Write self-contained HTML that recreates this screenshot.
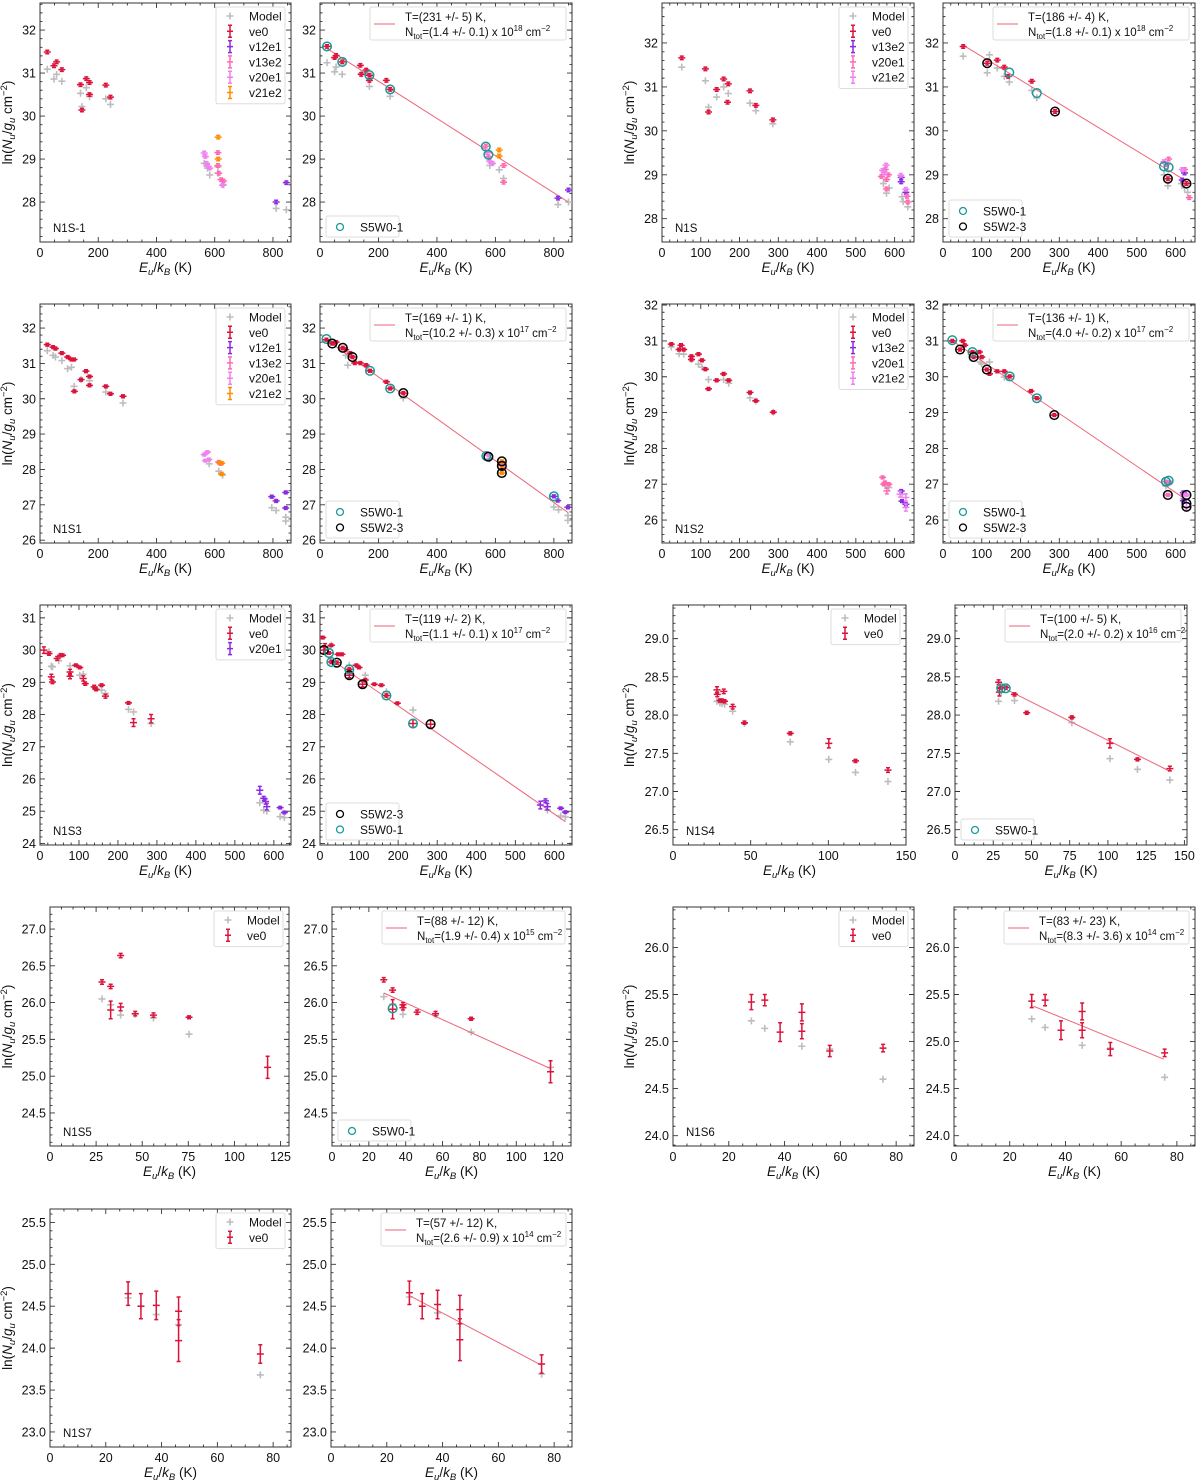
<!DOCTYPE html>
<html><head><meta charset="utf-8">
<style>
html,body{margin:0;padding:0;background:#fff;}
svg{display:block;font-family:"Liberation Sans","DejaVu Sans",sans-serif;}
</style></head>
<body>
<svg id="fig" xmlns="http://www.w3.org/2000/svg" width="1200" height="1481" viewBox="0 0 1200 1481"></svg>
<script>
// ---------- data: N1S-1 ----------
const a1_model=[[25,31.09],[48,30.86],[57,30.97],[75,30.81],[139,30.53],[144,30.22],[159,30.66],[170,30.45],[226,30.40],[242,30.27],[564,28.9],[575,28.79],[583,28.63],[611,28.67],[611,28.82],[630,28.4],[811,27.85],[846,27.82]];
const a1_ve0=[[25,31.49],[48,31.17],[57,31.26],[75,31.08],[139,30.73],[144,30.14],[159,30.87],[170,30.78],[170,30.50],[226,30.72],[242,30.44]];
const a1_v12e1=[[811,28.0],[846,28.45]];
const a1_v13e2=[[611,29.15],[611,28.85],[614,28.67],[622,28.52],[630,28.49]];
const a1_v20e1=[[564,29.14],[568,29.06],[572,28.9],[577,28.83],[583,28.79],[627,28.39]];
const a1_v21e2=[[612,29.51],[612,29.0]];
const b1_model=[[24,31.24],[50,31.03],[55,31.14],[76,30.97],[141,30.99],[169,30.69],[240,30.46],[581,28.85],[613,28.75],[628,28.55],[814,27.94],[850,28.0]];
const b1_ve0=[[24,31.62],[50,31.36],[55,31.41],[76,31.26],[138,31.18],[141,30.97],[158,31.07],[169,30.95],[169,30.83],[227,30.83],[240,30.62]];
const b1_v12e1=[[814,28.09],[850,28.28]];
const b1_v13e2=[[567,29.3],[628,28.46],[628,28.85],[576,29.05]];
const b1_v20e1=[[572,29.15],[580,28.95],[590,28.9]];
const b1_v21e2=[[613,29.21],[613,29.07]];
const b1_s5w01=[[24,31.62],[76,31.26],[169,30.95],[240,30.62],[567,29.29],[576,29.10]];
const b1_fit=[231,31.675,22,848];
// ---------- data: N1S ----------
const a2_model=[[51,31.45],[112,31.14],[120,30.54],[141,30.77],[159,31.0],[171,30.85],[227,30.63],[242,30.46],[286,30.16],[571,28.8],[579,28.58],[586,28.7],[619,28.5],[622,28.39],[634,28.27]];
const a2_ve0=[[51,31.66],[112,31.41],[120,30.43],[141,30.94],[159,31.18],[171,31.07],[169,30.65],[227,30.91],[242,30.58],[286,30.25]];
const a2_v13e2=[[617,28.94],[617,28.84],[629,28.6]];
const a2_v20e1=[[566,28.96],[576,29.12],[579,28.89],[584,29.0],[579,28.68],[632,28.51],[634,28.38]];
const a2_v21e2=[[574,29.04],[569,29.1],[578,29.22],[616,28.99],[629,28.67]];
const b2_model=[[52,31.70],[114,31.32],[120,31.73],[140,31.43],[158,31.24],[171,31.11],[229,30.92],[242,30.75],[570,29.0],[623,28.7],[631,28.6],[580,28.75],[615,28.8]];
const b2_ve0=[[52,31.92],[140,31.61],[158,31.45],[168,31.24],[229,31.13],[114,31.54],[289,30.44],[580,28.91],[628,28.80]];
const b2_v13e2=[[623,29.04],[617,28.88]];
const b2_v20e1=[[582,29.36],[577,29.23],[623,29.12],[635,28.48]];
const b2_v21e2=[[617,29.12],[570,29.3]];
const b2_s5w01=[[171,31.33],[242,30.86],[570,29.19],[582,29.17]];
const b2_s5w23=[[114,31.54],[289,30.44],[580,28.91],[628,28.80]];
const b2_fit=[186,32.23,51,640];
// ---------- data: N1S1 ----------
const a3_model=[[25,31.36],[45,31.23],[53,31.18],[75,31.08],[95,30.85],[108,30.89],[117,30.35],[141,30.54],[170,30.51],[226,30.19],[285,29.88],[581,28.16],[614,27.95],[627,27.84],[796,26.92],[811,26.84],[844,26.65],[844,26.54]];
const a3_ve0=[[25,31.53],[45,31.46],[53,31.42],[75,31.29],[95,31.18],[108,31.11],[117,31.11],[118,30.21],[141,30.54],[158,30.78],[170,30.63],[170,30.38],[226,30.35],[242,30.14],[285,30.07]];
const a3_v12e1=[[796,27.23],[811,27.11],[844,27.35],[844,26.91]];
const a3_v13e2=[[614,28.21],[620,28.16]];
const a3_v20e1=[[564,28.42],[575,28.49],[580,28.28],[568,28.25]];
const a3_v21e2=[[617,28.19],[624,28.18],[624,27.87]];
const b3_model=[[88,31.23],[95,30.95],[285,30.02],[800,26.94],[848,26.56],[848,26.7],[816,26.86],[580,28.3],[622,28.1]];
const b3_ve0=[[22,31.67],[45,31.58],[55,31.6],[88,31.39],[104,31.29],[119,31.01],[138,31.01],[158,30.95],[227,30.48],[42,31.56],[78,31.44],[111,31.18],[285,30.16],[171,30.79],[240,30.29]];
const b3_v12e1=[[800,27.24],[813,27.12],[848,26.93]];
const b3_v13e2=[[622,28.12]];
const b3_v20e1=[[569,28.45],[576,28.4]];
const b3_v21e2=[[622,28.23],[622,28.02],[622,27.9]];
const b3_s5w01=[[22,31.69],[171,30.79],[240,30.29],[569,28.38],[800,27.24]];
const b3_s5w23=[[42,31.56],[78,31.44],[111,31.18],[285,30.16],[576,28.36],[622,28.23],[622,28.1],[622,27.9]];
const b3_fit=[169,31.80,20,848];
// ---------- data: N1S2 ----------
const a4_model=[[24,30.83],[44,30.64],[56,30.63],[76,30.48],[94,30.35],[103,30.27],[120,29.92],[159,29.92],[172,29.82],[227,29.41],[242,29.32],[287,29.01],[575,26.96],[585,26.91],[619,26.72]];
const a4_ve0=[[24,30.91],[44,30.76],[49,30.88],[56,30.76],[76,30.57],[76,30.48],[94,30.63],[103,30.46],[112,30.21],[120,29.66],[141,29.9],[159,30.08],[172,29.9],[227,29.56],[242,29.33],[287,29.01]];
const a4_v13e2=[[617,26.81],[619,26.53],[629,26.44]];
const a4_v20e1=[[569,27.19],[575,27.05],[580,26.81,0.08],[585,27.0],[572,27.0]];
const a4_v21e2=[[614,26.72,0.08],[629,26.63,0.1],[629,26.35,0.1]];
const b4_model=[[96,30.41],[100,30.36],[120,30.41],[158,29.99],[575,26.95],[620,26.6]];
const b4_ve0=[[24,31.0],[51,31.0],[56,30.88],[76,30.69],[94,30.69],[100,30.55],[120,30.08],[140,30.15],[158,30.15],[172,30.01],[227,29.6],[242,29.4],[44,30.76],[79,30.55],[113,30.2],[287,28.93]];
const b4_v13e2=[[620,26.77],[620,26.54]];
const b4_v20e1=[[575,27.07],[585,27.05],[580,26.7]];
const b4_v21e2=[[620,26.72],[628,26.7],[628,26.37,0.1]];
const b4_s5w01=[[24,31.02],[76,30.69],[172,30.01],[242,29.4],[575,27.07],[582,27.1]];
const b4_s5w23=[[44,30.76],[79,30.55],[113,30.2],[287,28.93],[580,26.7],[628,26.7],[628,26.46],[628,26.37]];
const b4_fit=[136,31.18,22,628];
// ---------- data: N1S3 ----------
const a5_model=[[23,29.95],[29,29.5],[32,29.48],[48,29.67],[77,29.51],[102,29.22],[111,29.25],[158,28.76],[168,28.65],[227,28.16],[240,28.08],[285,27.72],[564,25.26],[574,25.03],[582,25.0],[616,24.83],[627,24.8]];
const a5_ve0=[[10,30.0,0.1],[23,29.89,0.05],[29,29.17,0.08],[32,29.01,0.05],[44,29.74,0.06],[53,29.84,0.05],[58,29.84,0.04],[77,29.32,0.08],[77,29.19,0.08],[92,29.53,0.04],[102,29.46,0.04],[111,29.12,0.08],[116,28.96,0.05],[139,28.86,0.05],[144,28.78,0.04],[158,28.91,0.04],[168,28.57,0.06],[227,28.36,0.04],[240,27.75,0.12],[285,27.87,0.13]];
const a5_v20e1=[[564,25.65,0.12],[574,25.4,0.06],[579,25.3,0.08],[582,25.14,0.1],[616,25.11,0.04],[627,24.96,0.04]];
const b5_model=[[26,30.12],[29,30.15],[75,29.53],[116,29.22],[170,28.71],[238,28.14],[582,25.03],[616,24.85],[628,24.82]];
const b5_ve0=[[7,30.39,0.04],[13,30.1,0.1],[29,30.15,0.04],[46,29.87,0.04],[56,29.87,0.04],[93,29.53,0.04],[100,29.46,0.04],[116,29.07,0.05],[139,28.94,0.04],[157,28.91,0.04],[198,28.35,0.04],[10,30.0,0.1],[43,29.61,0.05],[75,29.22,0.08],[109,28.94,0.08],[283,27.7,0.13],[23,29.91,0.04],[29,29.63,0.05],[75,29.4,0.05],[170,28.59,0.05],[238,27.72,0.12]];
const b5_v20e1=[[564,25.19,0.12],[577,25.32,0.06],[582,25.14,0.1],[616,25.09,0.04],[628,24.97,0.04]];
const b5_s5w23=[[10,30.0],[43,29.61],[75,29.22],[109,28.94],[283,27.7]];
const b5_s5w01=[[23,29.91],[29,29.63],[75,29.4],[170,28.59],[238,27.72]];
const b5_fit=[119,29.95,7,628];
// ---------- data: N1S4 ----------
const a6_model=[[28.3,28.18],[30.2,28.16],[31.5,28.15],[33.2,28.14],[38.4,28.05],[46,27.89],[75.5,27.65],[100.3,27.42],[117.5,27.25],[138.4,27.13]];
const a6_ve0=[[28.3,28.33,0.04],[28.5,28.27,0.03],[30.2,28.19,0.02],[31.5,28.19,0.02],[32.7,28.31,0.03],[33.2,28.18,0.02],[38.4,28.11,0.03],[46,27.9,0.02],[75.5,27.76,0.02],[100.3,27.63,0.06],[117.5,27.4,0.02],[138.4,27.28,0.03]];
const b6_model=[[28.5,28.18],[30.2,28.3],[38.9,28.19],[76.4,27.9],[101.3,27.43],[119.3,27.29],[140.5,27.15]];
const b6_ve0=[[28.5,28.43,0.03],[29,28.30,0.05],[30.2,28.36,0.02],[33.2,28.36,0.02],[38.9,28.27,0.02],[46.9,28.03,0.02],[76.4,27.97,0.02],[101.3,27.63,0.06],[119.3,27.42,0.02],[140.5,27.3,0.03]];
const b6_s5w01=[[30.2,28.35],[33.2,28.35]];
const b6_fit=[100,28.67,29,140.5];
// ---------- data: N1S5 ----------
const a7_model=[[28.2,26.05],[32.9,25.97],[38.3,25.83],[46.2,25.84],[56.1,25.79],[75.4,25.57]];
const a7_ve0=[[28.2,26.28,0.03],[32.9,26.22,0.03],[32.9,25.9,0.12],[38.3,26.64,0.03],[38.3,25.94,0.05],[46.2,25.85,0.03],[56.1,25.83,0.03],[75.4,25.8,0.02],[118,25.12,0.15]];
const b7_model=[[28.1,26.08],[33,25.98],[38.5,25.84],[56.2,25.83],[75.5,25.6],[118.6,25.12]];
const b7_ve0=[[28.1,26.31,0.03],[32.9,26.17,0.03],[32.9,25.91,0.13],[38.5,25.97,0.03],[38.5,25.93,0.03],[46.2,25.87,0.03],[56.2,25.85,0.03],[75.5,25.78,0.02],[118.6,25.06,0.15]];
const b7_s5w01=[[32.9,25.92]];
const b7_fit=[88,26.45,28.1,118.6];
// ---------- data: N1S6 ----------
const a8_model=[[28.1,25.22],[32.9,25.14],[46.2,24.95],[56.2,24.92],[75.3,24.6]];
const a8_ve0=[[28.1,25.42,0.08],[32.9,25.44,0.06],[38.4,25.1,0.1],[46.2,25.31,0.09],[46.2,25.11,0.08],[56.2,24.9,0.06],[75.3,24.93,0.04]];
const b8_model=[[27.9,25.24],[32.7,25.15],[46,24.96],[56.1,24.93],[75.6,24.62]];
const b8_ve0=[[27.9,25.43,0.07],[32.7,25.44,0.06],[38.4,25.12,0.1],[46,25.32,0.09],[46,25.12,0.08],[56.1,24.92,0.07],[75.6,24.88,0.04]];
const b8_fit=[83,25.72,28.6,75.3];
// ---------- data: N1S7 ----------
const a9_model=[[28,24.6],[32.6,24.5],[38.1,24.4],[46.1,24.28],[75.4,23.68]];
const a9_ve0=[[28,24.65,0.14],[32.6,24.5,0.15],[38.1,24.51,0.17],[46.1,24.44,0.17],[46.1,24.09,0.25],[75.4,23.93,0.11]];
const b9_model=[[28.1,24.61],[38.2,24.42],[46.2,24.29],[75.5,23.69]];
const b9_ve0=[[28.1,24.66,0.14],[32.7,24.5,0.15],[38.2,24.52,0.17],[46.2,24.46,0.17],[46.2,24.1,0.25],[75.5,23.81,0.11]];
const b9_fit=[57,25.12,28.1,75.5];

const NS='http://www.w3.org/2000/svg';
const svg=document.getElementById('fig');
function mk(tag,attrs,parent){const e=document.createElementNS(NS,tag);for(const k in attrs)e.setAttribute(k,attrs[k]);(parent||svg).appendChild(e);return e;}
const RED='#dc143c',PUR='#8a2be2',HPK='#ff69b4',VIO='#ee82ee',ORG='#ff8c00',GRY='#bdbdbd',TEAL='#1a9a9a',FITC='#ee6478';

const panels=[
 {nm:'n1s-1',x0:40,x1:291,y0:3,y1:242,xr:[0,862],yr:[27.07,32.63],xs:200,ys:1,yd:0,lab:'N1S-1',ylx:12,model:a1_model,ser:[['ve0',a1_ve0,RED],['v12e1',a1_v12e1,PUR],['v13e2',a1_v13e2,HPK],['v20e1',a1_v20e1,VIO],['v21e2',a1_v21e2,ORG]]},
 {nm:'n1s-1-fit',x0:320,x1:572,y0:3,y1:242,xr:[0,862],yr:[27.07,32.63],xs:200,ys:1,yd:0,model:b1_model,ser:[['ve0',b1_ve0,RED],['v12e1',b1_v12e1,PUR],['v13e2',b1_v13e2,HPK],['v20e1',b1_v20e1,VIO],['v21e2',b1_v21e2,ORG]],fit:b1_fit,ftxt:['231 +/- 5','1.4 +/- 0.1','18'],circ:[['S5W0-1',b1_s5w01,TEAL]]},
 {nm:'n1s',x0:662,x1:914,y0:3,y1:242,xr:[0,650],yr:[27.47,32.91],xs:100,ys:1,yd:0,lab:'N1S',ylx:634,model:a2_model,ser:[['ve0',a2_ve0,RED],['v13e2',a2_v13e2,PUR],['v20e1',a2_v20e1,HPK],['v21e2',a2_v21e2,VIO]]},
 {nm:'n1s-fit',x0:943,x1:1195,y0:3,y1:242,xr:[0,650],yr:[27.47,32.91],xs:100,ys:1,yd:0,model:b2_model,ser:[['ve0',b2_ve0,RED],['v13e2',b2_v13e2,PUR],['v20e1',b2_v20e1,HPK],['v21e2',b2_v21e2,VIO]],fit:b2_fit,ftxt:['186 +/- 4','1.8 +/- 0.1','18'],circ:[['S5W0-1',b2_s5w01,TEAL],['S5W2-3',b2_s5w23,'#000']]},
 {nm:'n1s1',x0:40,x1:291,y0:304,y1:543,xr:[0,862],yr:[25.92,32.68],xs:200,ys:1,yd:0,lab:'N1S1',ylx:12,model:a3_model,ser:[['ve0',a3_ve0,RED],['v12e1',a3_v12e1,PUR],['v13e2',a3_v13e2,HPK],['v20e1',a3_v20e1,VIO],['v21e2',a3_v21e2,ORG]]},
 {nm:'n1s1-fit',x0:320,x1:572,y0:304,y1:543,xr:[0,862],yr:[25.92,32.68],xs:200,ys:1,yd:0,model:b3_model,ser:[['ve0',b3_ve0,RED],['v12e1',b3_v12e1,PUR],['v13e2',b3_v13e2,HPK],['v20e1',b3_v20e1,VIO],['v21e2',b3_v21e2,ORG]],fit:b3_fit,ftxt:['169 +/- 1','10.2 +/- 0.3','17'],circ:[['S5W0-1',b3_s5w01,TEAL],['S5W2-3',b3_s5w23,'#000']]},
 {nm:'n1s2',x0:662,x1:914,y0:304,y1:543,xr:[0,650],yr:[25.36,32.03],xs:100,ys:1,yd:0,lab:'N1S2',ylx:634,model:a4_model,ser:[['ve0',a4_ve0,RED],['v13e2',a4_v13e2,PUR],['v20e1',a4_v20e1,HPK],['v21e2',a4_v21e2,VIO]]},
 {nm:'n1s2-fit',x0:943,x1:1195,y0:304,y1:543,xr:[0,650],yr:[25.36,32.03],xs:100,ys:1,yd:0,model:b4_model,ser:[['ve0',b4_ve0,RED],['v13e2',b4_v13e2,PUR],['v20e1',b4_v20e1,HPK],['v21e2',b4_v21e2,VIO]],fit:b4_fit,ftxt:['136 +/- 1','4.0 +/- 0.2','17'],circ:[['S5W0-1',b4_s5w01,TEAL],['S5W2-3',b4_s5w23,'#000']]},
 {nm:'n1s3',x0:40,x1:291,y0:605,y1:845,xr:[0,644],yr:[23.95,31.4],xs:100,ys:1,yd:0,lab:'N1S3',ylx:12,model:a5_model,ser:[['ve0',a5_ve0,RED],['v20e1',a5_v20e1,PUR]]},
 {nm:'n1s3-fit',x0:320,x1:572,y0:605,y1:845,xr:[0,645],yr:[23.95,31.4],xs:100,ys:1,yd:0,model:b5_model,ser:[['ve0',b5_ve0,RED],['v20e1',b5_v20e1,PUR]],fit:b5_fit,ftxt:['119 +/- 2','1.1 +/- 0.1','17'],circ:[['S5W2-3',b5_s5w23,'#000'],['S5W0-1',b5_s5w01,TEAL]]},
 {nm:'n1s4',x0:673,x1:906,y0:605,y1:845,xr:[0,150],yr:[26.3,29.44],xs:50,ys:0.5,yd:1,lab:'N1S4',ylx:634,model:a6_model,ser:[['ve0',a6_ve0,RED]]},
 {nm:'n1s4-fit',x0:955,x1:1187,y0:605,y1:845,xr:[0,151.7],yr:[26.3,29.44],xs:25,ys:0.5,yd:1,model:b6_model,ser:[['ve0',b6_ve0,RED]],fit:b6_fit,ftxt:['100 +/- 5','2.0 +/- 0.2','16'],circ:[['S5W0-1',b6_s5w01,TEAL]]},
 {nm:'n1s5',x0:50,x1:289,y0:907,y1:1146,xr:[0,129.6],yr:[24.05,27.3],xs:25,ys:0.5,yd:1,lab:'N1S5',ylx:12,model:a7_model,ser:[['ve0',a7_ve0,RED]]},
 {nm:'n1s5-fit',x0:332,x1:571,y0:907,y1:1146,xr:[0,129.7],yr:[24.05,27.3],xs:20,ys:0.5,yd:1,model:b7_model,ser:[['ve0',b7_ve0,RED]],fit:b7_fit,ftxt:['88 +/- 12','1.9 +/- 0.4','15'],circ:[['S5W0-1',b7_s5w01,TEAL]]},
 {nm:'n1s6',x0:673,x1:914,y0:907,y1:1146,xr:[0,86.4],yr:[23.89,26.43],xs:20,ys:0.5,yd:1,lab:'N1S6',ylx:634,model:a8_model,ser:[['ve0',a8_ve0,RED]]},
 {nm:'n1s6-fit',x0:954,x1:1195,y0:907,y1:1146,xr:[0,86.5],yr:[23.89,26.43],xs:20,ys:0.5,yd:1,model:b8_model,ser:[['ve0',b8_ve0,RED]],fit:b8_fit,ftxt:['83 +/- 23','8.3 +/- 3.6','14']},
 {nm:'n1s7',x0:50,x1:291,y0:1209,y1:1447,xr:[0,86.4],yr:[22.82,25.66],xs:20,ys:0.5,yd:1,lab:'N1S7',ylx:12,model:a9_model,ser:[['ve0',a9_ve0,RED]]},
 {nm:'n1s7-fit',x0:331,x1:572,y0:1209,y1:1447,xr:[0,86.4],yr:[22.82,25.66],xs:20,ys:0.5,yd:1,model:b9_model,ser:[['ve0',b9_ve0,RED]],fit:b9_fit,ftxt:['57 +/- 12','2.6 +/- 0.9','14']}
];

function plus(g,x,y,c,s,w){
  const p=mk('path',{d:`M${x-s} ${y}H${x+s}M${x} ${y-s}V${y+s}`,stroke:c,'stroke-width':w,fill:'none'},g);
  return p;
}
function ndiv(step){const m=step/Math.pow(10,Math.floor(Math.log10(step)+1e-9));return (Math.abs(m-1)<1e-6||Math.abs(m-5)<1e-6)?5:4;}

panels.forEach(P=>{
  const g=mk('g',{});
  
  
  const X=v=>P.x0+(v-P.xr[0])/(P.xr[1]-P.xr[0])*(P.x1-P.x0);
  const Y=v=>P.y1-(v-P.yr[0])/(P.yr[1]-P.yr[0])*(P.y1-P.y0);
  const clip='clip-'+P.nm;
  const cp=mk('clipPath',{id:clip},g);
  mk('rect',{x:P.x0,y:P.y0,width:P.x1-P.x0,height:P.y1-P.y0},cp);
  const tg=mk('g',{stroke:'#333','stroke-width':0.9},g);
  
  
  const xmn=P.xs/ndiv(P.xs), ymn=P.ys/ndiv(P.ys);
  for(let v=Math.ceil(P.xr[0]/xmn-1e-6)*xmn; v<=P.xr[1]+1e-9; v+=xmn){
    const maj=Math.abs(v/P.xs-Math.round(v/P.xs))<1e-6, L=maj?5:2.5, x=X(v);
    mk('path',{d:`M${x} ${P.y1}V${P.y1-L}M${x} ${P.y0}V${P.y0+L}`},tg);
    if(maj){const t=mk('text',{x:x,y:P.y1+15,'text-anchor':'middle','font-size':12.5,fill:'#111',stroke:'none'},g);t.textContent=Math.round(v);
      
      }
  }
  for(let v=Math.ceil(P.yr[0]/ymn-1e-6)*ymn; v<=P.yr[1]+1e-9; v+=ymn){
    const maj=Math.abs(v/P.ys-Math.round(v/P.ys))<1e-6, L=maj?5:2.5, y=Y(v);
    mk('path',{d:`M${P.x0} ${y}H${P.x0+L}M${P.x1} ${y}H${P.x1-L}`},tg);
    if(maj){const t=mk('text',{x:P.x0-4,y:y+4.5,'text-anchor':'end','font-size':12.5,fill:'#111'},g);t.textContent=v.toFixed(P.yd);
      
      }
  }
  const fr=mk('rect',{x:P.x0,y:P.y0,width:P.x1-P.x0,height:P.y1-P.y0,fill:'none',stroke:'#333','stroke-width':1},g);
  
  
  const xl=mk('text',{x:(P.x0+P.x1)/2,y:P.y1+30,'text-anchor':'middle','font-size':13.5,fill:'#111'},g);
  xl.innerHTML='<tspan font-style="italic">E</tspan><tspan font-style="italic" font-size="9.5" dy="3">u</tspan><tspan dy="-3">/</tspan><tspan font-style="italic">k</tspan><tspan font-style="italic" font-size="9.5" dy="3">B</tspan><tspan dy="-3"> (K)</tspan>';
  
  
  if(P.ylx){
    const cy=(P.y0+P.y1)/2;
    const yl=mk('text',{x:0,y:0,'text-anchor':'middle','font-size':13.5,fill:'#111',transform:`translate(${P.ylx},${cy}) rotate(-90)`},g);
    yl.innerHTML='ln(<tspan font-style="italic">N</tspan><tspan font-style="italic" font-size="9.5" dy="3">u</tspan><tspan dy="-3">/</tspan><tspan font-style="italic">g</tspan><tspan font-style="italic" font-size="9.5" dy="3">u</tspan><tspan dy="-3"> cm</tspan><tspan font-size="9.5" dy="-5">−2</tspan><tspan dy="5">)</tspan>';
    
    
  }
  const dg=mk('g',{'clip-path':`url(#${clip})`},g);
  
  
  P.model.forEach(d=>{
    const m=plus(dg,X(d[0]),Y(d[1]),GRY,3.5,1.6);
    
    
  });
  if(P.fit){
    const f=P.fit, fy=e=>f[1]-e/f[0];
    const ln=mk('line',{x1:X(f[2]),y1:Y(fy(f[2])),x2:X(f[3]),y2:Y(fy(f[3])),stroke:FITC,'stroke-width':1},dg);
    
    
  }
  P.ser.forEach(s=>{
    s[1].forEach(d=>{
      const x=X(d[0]),y=Y(d[1]),err=d[2]!==undefined?d[2]:0.04;
      const ya=Y(d[1]+err),yb=Y(d[1]-err);
      const eb=mk('path',{d:`M${x} ${ya}V${yb}M${x-2} ${ya}H${x+2}M${x-2} ${yb}H${x+2}M${x-3.5} ${y}H${x+3.5}`,stroke:s[2],'stroke-width':1.5,fill:'none'},dg);
      
      
    });
  });
  if(P.circ){P.circ.forEach(c=>{c[1].forEach(d=>{
    const o=mk('circle',{cx:X(d[0]),cy:Y(d[1]),r:4.3,fill:'none',stroke:c[2],'stroke-width':1.5},dg);
    
    
  });});}
  if(P.lab){const t=mk('text',{x:P.x0+13,y:P.y1-10,'font-size':11.5,fill:'#111'},g);t.textContent=P.lab;
    
    }
  if(!P.fit){
    const n=P.ser.length+1, bx=P.x1-75, by=P.y0+4;
    const lg=mk('g',{},g);
    
    
    mk('rect',{x:bx,y:by,width:69,height:15.3*n+5,rx:2,fill:'#fff',stroke:'#ddd','stroke-width':1},lg);
    const rows=[['Model',GRY]].concat(P.ser.map(s=>[s[0],s[2]]));
    rows.forEach((r,i)=>{
      const cy=P.y0+13+15.3*i, mx=bx+14;
      if(i==0){plus(lg,mx,cy,GRY,3.5,1.6);}
      else mk('path',{d:`M${mx} ${cy-6}V${cy+6}M${mx-2} ${cy-6}H${mx+2}M${mx-2} ${cy+6}H${mx+2}M${mx-3} ${cy}H${mx+3}`,stroke:r[1],'stroke-width':1.5,fill:'none'},lg);
      const t=mk('text',{x:bx+33,y:cy+4.5,'font-size':12,fill:'#111'},lg);t.textContent=r[0];
      
      
    });
  } else {
    const bx=P.x0+50, by=P.y0+4;
    const lg=mk('g',{},g);
    
    
    mk('rect',{x:bx,y:by,width:P.x1-6-bx,height:33,rx:2,fill:'#fff',stroke:'#ddd','stroke-width':1},lg);
    mk('line',{x1:bx+4,y1:by+17,x2:bx+25,y2:by+17,stroke:FITC,'stroke-width':1},lg);
    const t1=mk('text',{x:bx+35,y:by+14,'font-size':11.5,fill:'#111'},lg);t1.textContent='T=('+P.ftxt[0]+') K,';
    
    
    const t2=mk('text',{x:bx+35,y:by+29,'font-size':11.5,fill:'#111'},lg);
    t2.innerHTML='N<tspan font-size="8" dy="3">tot</tspan><tspan dy="-3">=('+P.ftxt[1]+') x 10</tspan><tspan font-size="8" dy="-5">'+P.ftxt[2]+'</tspan><tspan dy="5"> cm</tspan><tspan font-size="8" dy="-5">−2</tspan>';
    
    
    if(P.circ){
      const n=P.circ.length, h=n==1?21:37, cx0=P.x0+6, cy0=P.y1-5-h;
      const cl=mk('g',{},g);
      
      
      mk('rect',{x:cx0,y:cy0,width:73,height:h,rx:2,fill:'#fff',stroke:'#ddd','stroke-width':1},cl);
      P.circ.forEach((c,i)=>{
        const cy=cy0+11+15.5*i;
        mk('circle',{cx:cx0+14,cy:cy,r:3.5,fill:'none',stroke:c[2],'stroke-width':1.3},cl);
        const t=mk('text',{x:cx0+34,y:cy+4.5,'font-size':12,fill:'#111'},cl);t.textContent=c[0];
        
        
      });
    }
  }
});
</script>
</body></html>
